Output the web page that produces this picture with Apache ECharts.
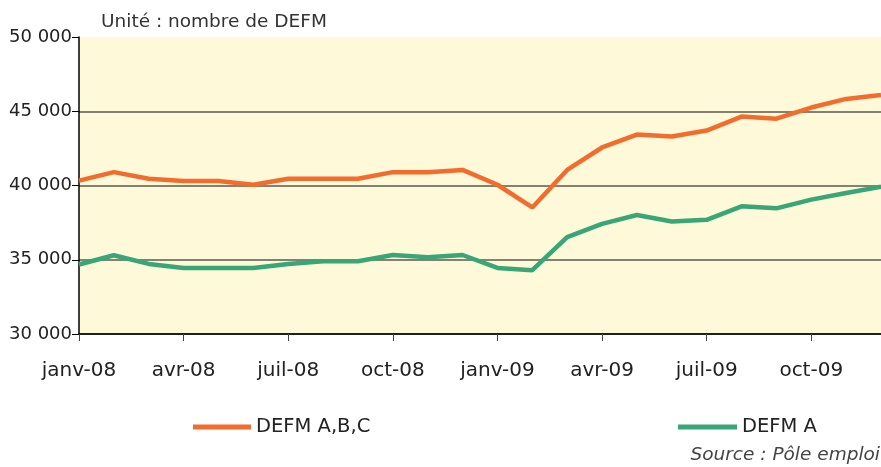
<!DOCTYPE html>
<html><head><meta charset="utf-8">
<script src="https://cdn.jsdelivr.net/npm/echarts@6/dist/echarts.min.js"></script>
<style>html,body{margin:0;padding:0;background:#fff}#c{width:881px;height:467px}</style>
</head><body><div id="c"></div>
<script>
const categories = ['janv-08','févr-08','mars-08','avr-08','mai-08','juin-08','juil-08','août-08','sept-08','oct-08','nov-08','déc-08',
  'janv-09','févr-09','mars-09','avr-09','mai-09','juin-09','juil-09','août-09','sept-09','oct-09','nov-09','déc-09'];
const defmABC = [40330,40900,40460,40300,40300,40050,40450,40450,40450,40900,40900,41050,
  40050,38520,41050,42560,43430,43300,43700,44640,44500,45250,45830,46100];
const defmA = [34680,35300,34720,34450,34450,34450,34720,34900,34900,35320,35170,35320,
  34450,34300,36520,37420,38010,37580,37690,38600,38460,39050,39500,39920];
const yTicks = [30000,35000,40000,45000,50000];
const FONT = '"DejaVu Sans", sans-serif';
const GRID = '#5a5a50';
const chart = echarts.init(document.getElementById('c'));
chart.setOption({
  animation:false,
  backgroundColor:'#ffffff',
  title:{text:'Unité : nombre de DEFM',left:96,top:8,textStyle:{fontFamily:FONT,fontSize:18.5,fontWeight:'normal',color:'#333'}},
  grid:{left:79,right:0,top:37,bottom:133,backgroundColor:'#FEF9D8',show:true,borderWidth:0},
  legend:[
    {data:['DEFM A,B,C'],left:188,top:412,itemWidth:58,itemHeight:5,icon:'rect',itemGap:6,textStyle:{fontFamily:FONT,fontSize:19.5,color:'#222'}},
    {data:['DEFM A'],left:673,top:412,itemWidth:59,itemHeight:5,icon:'rect',itemGap:6,textStyle:{fontFamily:FONT,fontSize:19.5,color:'#222'}}
  ],
  graphic:[{type:'text',right:1,top:446,style:{text:'Source : Pôle emploi',font:'italic 18.5px '+FONT,fill:'#444'}}],
  xAxis:{type:'category',data:categories,boundaryGap:false,
    axisLine:{lineStyle:{color:'#000',width:1.5}},
    axisTick:{interval:2,length:7,lineStyle:{color:'#444'}},
    axisLabel:{interval:2,margin:27,fontFamily:FONT,fontSize:20,color:'#222'}},
  yAxis:{type:'value',min:30000,max:50000,interval:5000,
    axisLine:{show:true,lineStyle:{color:'#000',width:1.5}},
    axisTick:{show:true,length:7,lineStyle:{color:'#000'}},
    axisLabel:{margin:7,fontFamily:FONT,fontSize:18,color:'#222',formatter:v=>yTicks.includes(v)?String(v).replace(/(\d+)(\d{3})$/,'$1 $2'):''},
    splitLine:{show:true,lineStyle:{color:[GRID,GRID,GRID,GRID,'rgba(0,0,0,0)'],width:1.5}}},
  series:[
    {name:'DEFM A,B,C',type:'line',data:defmABC,symbol:'none',color:'#F26D2D',lineStyle:{width:4.5}},
    {name:'DEFM A',type:'line',data:defmA,symbol:'none',color:'#38A677',lineStyle:{width:4.5}}
  ]
});
</script></body></html>
